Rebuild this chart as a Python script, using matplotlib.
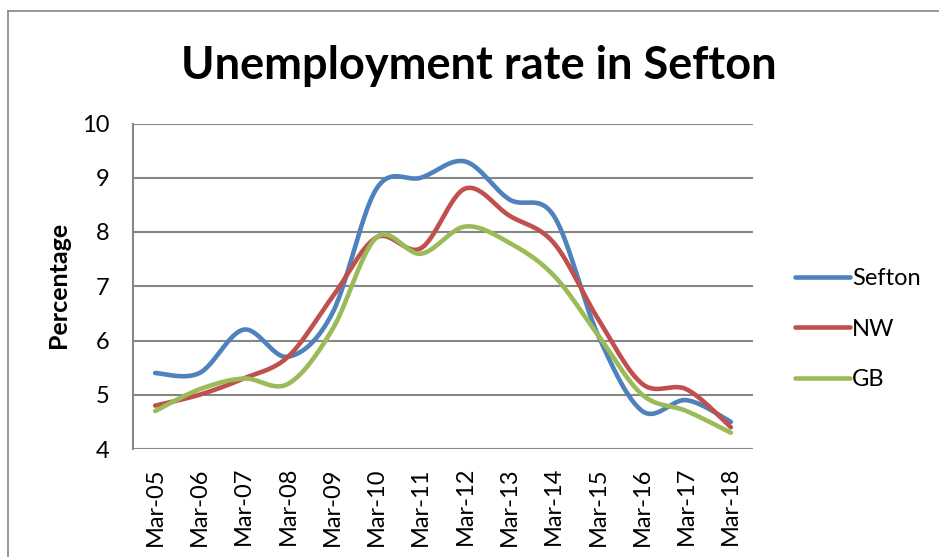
import numpy as np
import matplotlib.pyplot as plt
from matplotlib.lines import Line2D

plt.rcParams['font.family'] = ['Lato', 'DejaVu Sans']

# Unemployment rates, March of each year
years = ['Mar-05', 'Mar-06', 'Mar-07', 'Mar-08', 'Mar-09', 'Mar-10', 'Mar-11',
         'Mar-12', 'Mar-13', 'Mar-14', 'Mar-15', 'Mar-16', 'Mar-17', 'Mar-18']
sefton = [5.4, 5.4, 6.2, 5.7, 6.5, 8.8, 9.0, 9.3, 8.6, 8.3, 6.1, 4.7, 4.9, 4.5]
nw = [4.8, 5.0, 5.3, 5.7, 6.8, 7.9, 7.7, 8.8, 8.3, 7.8, 6.4, 5.2, 5.1, 4.4]
gb = [4.7, 5.1, 5.3, 5.2, 6.2, 7.9, 7.6, 8.1, 7.8, 7.2, 6.1, 5.0, 4.7, 4.3]

series = [('Sefton', sefton, '#4F81BD'),
          ('NW', nw, '#C0504D'),
          ('GB', gb, '#9BBB59')]


def smooth(y, n=30):
    # Catmull-Rom style bezier smoothing through every point
    y = np.asarray(y, dtype=float)
    x = np.arange(len(y), dtype=float)
    xs, ys = [], []
    for i in range(len(y) - 1):
        i0 = max(i - 1, 0)
        i3 = min(i + 2, len(y) - 1)
        p0 = np.array([x[i], y[i]])
        p3 = np.array([x[i + 1], y[i + 1]])
        c1 = p0 + (p3 - np.array([x[i0], y[i0]])) / 6
        c2 = p3 - (np.array([x[i3], y[i3]]) - p0) / 6
        t = np.linspace(0, 1, n)[:, None]
        pts = ((1 - t) ** 3 * p0 + 3 * (1 - t) ** 2 * t * c1
               + 3 * (1 - t) * t ** 2 * c2 + t ** 3 * p3)
        xs.extend(pts[:, 0])
        ys.extend(pts[:, 1])
    return np.array(xs), np.array(ys)


W, H = 939, 557
fig = plt.figure(figsize=(W / 100, H / 100), dpi=100)
ax = fig.add_axes([133 / W, (H - 449) / H, 620 / W, (449 - 123.5) / H])

for name, vals, col in series:
    sx, sy = smooth(vals)
    ax.plot(sx, sy, color=col, lw=3.3, label=name, solid_capstyle='round')

ax.set_xlim(-0.5, len(years) - 0.5)
ax.set_ylim(4, 10)
ax.set_yticks(range(4, 11))
ax.set_xticks(range(len(years)))
ax.set_xticklabels(years, rotation=90)
ax.tick_params(length=0, labelsize=17, colors='black')
ax.tick_params(axis='y', pad=17)
ax.tick_params(axis='x', pad=13)
ax.grid(axis='y', color='#868686', lw=1.5)
ax.set_axisbelow(True)
for s in ['top', 'right', 'bottom']:
    ax.spines[s].set_visible(False)
ax.spines['left'].set_color('#868686')
ax.spines['left'].set_linewidth(1.5)

fig.text(479 / W, 1 - 66 / H, 'Unemployment rate in Sefton', ha='center',
         va='center', fontsize=32.5, fontweight='bold')
fig.text(58 / W, 1 - 285 / H, 'Percentage', rotation=90, ha='center',
         va='center', fontsize=18, fontweight='bold')

ax.legend(loc='center left', bbox_to_anchor=(774 / W, 1 - 329 / H),
          bbox_transform=fig.transFigure, frameon=False, fontsize=17,
          handlelength=2.3, handletextpad=0.1, labelspacing=1.25)

# chart frame
fig.add_artist(Line2D([8 / W, 8 / W], [0, 1 - 11 / H], color='#868686', lw=1.2))
fig.add_artist(Line2D([8 / W, 1], [1 - 11 / H, 1 - 11 / H], color='#868686', lw=1.2))

fig.savefig('out.png', dpi=100)
